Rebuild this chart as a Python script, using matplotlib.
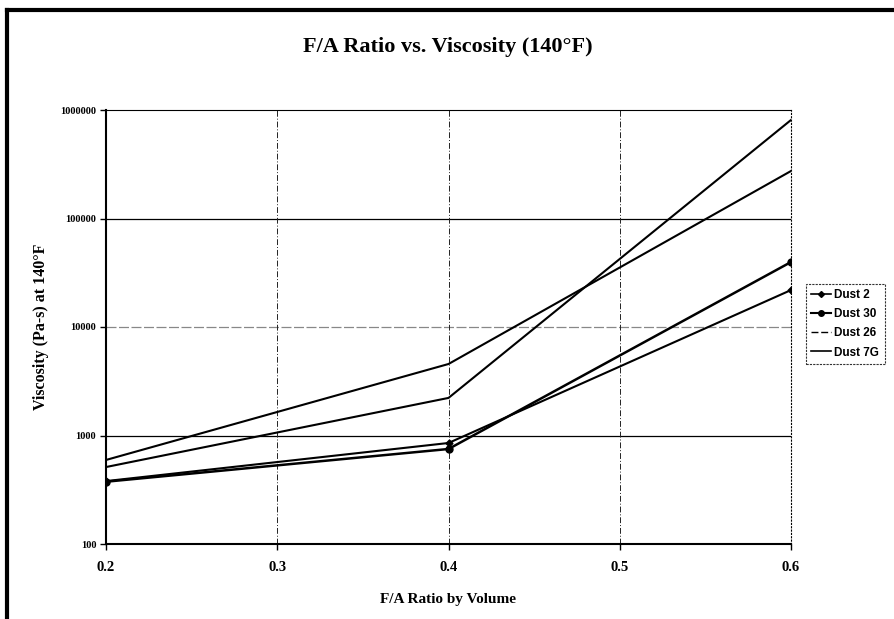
import matplotlib
matplotlib.use("Agg")
import matplotlib.pyplot as plt
from matplotlib.lines import Line2D
from matplotlib.ticker import FixedLocator, FixedFormatter, NullLocator

fa_ratio = [0.2, 0.4, 0.6]
dust_2 = [380, 853, 21900]
dust_30 = [375, 751, 39700]
dust_26 = [595, 4560, 274000]
dust_7g = [512, 2220, 809000]
series_names = ["Dust 2", "Dust 30", "Dust 26", "Dust 7G"]
x_ticks = [0.2, 0.3, 0.4, 0.5, 0.6]
x_tick_labels = ["0.2", "0.3", "0.4", "0.5", "0.6"]
y_ticks = [100, 1000, 10000, 100000, 1000000]
y_tick_labels = ["100", "1000", "10000", "100000", "1000000"]

serif = "Liberation Serif"
sans = "Liberation Sans"

fig = plt.figure(figsize=(8.95, 6.19), dpi=100)
ax = fig.add_axes([106/895, 1-544/619, (791-106)/895, (544-110)/619])

ax.set_yscale("log")
ax.set_xlim(0.2, 0.6)
ax.set_ylim(100, 1000000)

# grid lines
for yv in [1000, 100000]:
    ax.axhline(yv, color="black", lw=0.9, zorder=1)
ax.axhline(10000, color="#888888", lw=0.9, ls=(0, (8, 2)), zorder=1)
for xv in [0.3, 0.4, 0.5]:
    ax.axvline(xv, color="#222222", lw=0.7, ls=(0, (6, 2, 1, 2)), zorder=1)

ax.plot(fa_ratio, dust_2, color="black", lw=1.5, marker="D", ms=3.5, zorder=3)
ax.plot(fa_ratio, dust_30, color="black", lw=1.8, marker="o", ms=5, zorder=3)
ax.plot(fa_ratio, dust_26, color="black", lw=1.5, zorder=3)
ax.plot(fa_ratio, dust_7g, color="black", lw=1.5, zorder=3)

ax.xaxis.set_major_locator(FixedLocator(x_ticks))
ax.xaxis.set_major_formatter(FixedFormatter(x_tick_labels))
ax.yaxis.set_major_locator(FixedLocator(y_ticks))
ax.yaxis.set_major_formatter(FixedFormatter(y_tick_labels))
ax.yaxis.set_minor_locator(NullLocator())

for lab in ax.get_xticklabels():
    lab.set_fontfamily(serif); lab.set_fontsize(10.5); lab.set_fontweight("bold")
for lab in ax.get_yticklabels():
    lab.set_fontfamily(serif); lab.set_fontsize(7.5); lab.set_fontweight("bold")
ax.tick_params(axis="both", direction="out", length=4, width=1, colors="black", pad=3)
ax.tick_params(axis="x", pad=8)

ax.spines["left"].set_linewidth(1.5)
ax.spines["bottom"].set_linewidth(1.5)
ax.spines["top"].set_linewidth(0.8)
ax.spines["top"].set_linestyle((0, (1, 1)))
ax.spines["right"].set_linewidth(0.8)
ax.spines["right"].set_linestyle((0, (1, 2)))

ax.set_xlabel("F/A Ratio by Volume", fontfamily=serif, fontsize=11, fontweight="bold", labelpad=14)
ax.set_ylabel("Viscosity (Pa-s) at 140°F", fontfamily=serif, fontsize=11.5, fontweight="bold", labelpad=8)
fig.text(0.50, 1-47/619, "F/A Ratio vs. Viscosity (140°F)", ha="center", va="center",
         fontfamily=serif, fontsize=16, fontweight="bold")

handles = [
    Line2D([], [], color="black", lw=1.2, marker="D", ms=3),
    Line2D([], [], color="black", lw=1.5, marker="o", ms=4),
    Line2D([], [], color="black", lw=1.0, ls=(0, (5, 2))),
    Line2D([], [], color="black", lw=1.2),
]
leg = fig.legend(handles, series_names, loc="upper left", bbox_to_anchor=(806/895, 1-284/619),
                 frameon=True, fancybox=False, edgecolor="black", handlelength=1.7,
                 handletextpad=0.25, borderpad=0.45, borderaxespad=0.0, labelspacing=0.6,
                 prop={"family": sans, "size": 8.5, "weight": "bold"})
leg.get_frame().set_linewidth(0.8)
leg.get_frame().set_linestyle((0, (2, 1)))

# page frame
fig.add_artist(Line2D([7/895, 7/895], [0, 1-10/619], transform=fig.transFigure, color="black", lw=3))
fig.add_artist(Line2D([7/895, 1], [1-10/619, 1-10/619], transform=fig.transFigure, color="black", lw=3))

fig.savefig("out.png", dpi=100)
